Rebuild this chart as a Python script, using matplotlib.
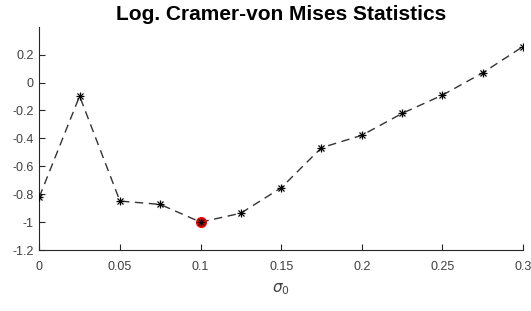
import matplotlib
matplotlib.use("Agg")
import matplotlib.pyplot as plt

plt.rcParams['font.family'] = ['Liberation Sans', 'DejaVu Sans']
plt.rcParams['mathtext.fontset'] = 'dejavusans'

sigma0 = [0, 0.025, 0.05, 0.075, 0.1, 0.125, 0.15, 0.175, 0.2, 0.225, 0.25, 0.275, 0.3]
log_cvm = [-0.82, -0.097, -0.849, -0.873, -1.0, -0.936, -0.754, -0.467, -0.378, -0.221, -0.09, 0.07, 0.258]
best_x = [0.1]
best_y = [-1.0]
xticks = [0, 0.05, 0.1, 0.15, 0.2, 0.25, 0.3]
xticklabels = ['0', '0.05', '0.1', '0.15', '0.2', '0.25', '0.3']
yticks = [-1.2, -1.0, -0.8, -0.6, -0.4, -0.2, 0, 0.2]
yticklabels = ['-1.2', '-1', '-0.8', '-0.6', '-0.4', '-0.2', '0', '0.2']

fig = plt.figure(figsize=(5.31, 3.11), dpi=100)
ax = fig.add_axes([0.074, 0.196, 0.911, 0.718])

ax.plot(sigma0, log_cvm, linestyle=(0, (6, 4)), color='#333333', linewidth=1.0, zorder=2)
ax.plot(best_x, best_y, 'o', color='red', markersize=8, markeredgewidth=0, zorder=3)
ax.plot(sigma0, log_cvm, linestyle='none', marker='+', markersize=6,
        markeredgecolor='black', markeredgewidth=0.9, zorder=4)
ax.plot(sigma0, log_cvm, linestyle='none', marker='x', markersize=4.3,
        markeredgecolor='black', markeredgewidth=0.9, zorder=4)

ax.set_xlim(0, 0.3)
ax.set_ylim(-1.2, 0.4)
ax.set_xticks(xticks)
ax.set_xticklabels(xticklabels)
ax.set_yticks(yticks)
ax.set_yticklabels(yticklabels)

for s in ['top', 'right']:
    ax.spines[s].set_visible(False)
for s in ['left', 'bottom']:
    ax.spines[s].set_color('#262626')
    ax.spines[s].set_linewidth(0.8)

ax.tick_params(direction='in', length=4, width=0.8, colors='#262626',
               labelsize=9, labelcolor='#404040')
ax.tick_params(axis='x', pad=8)
ax.tick_params(axis='y', pad=4)

ax.set_xlabel(r'$\sigma_0$', fontsize=11, color='#404040', labelpad=6)
ax.set_title('Log. Cramer-von Mises Statistics', fontsize=15, fontweight='bold',
             color='black', pad=5)

fig.savefig('out.png', dpi=100)
